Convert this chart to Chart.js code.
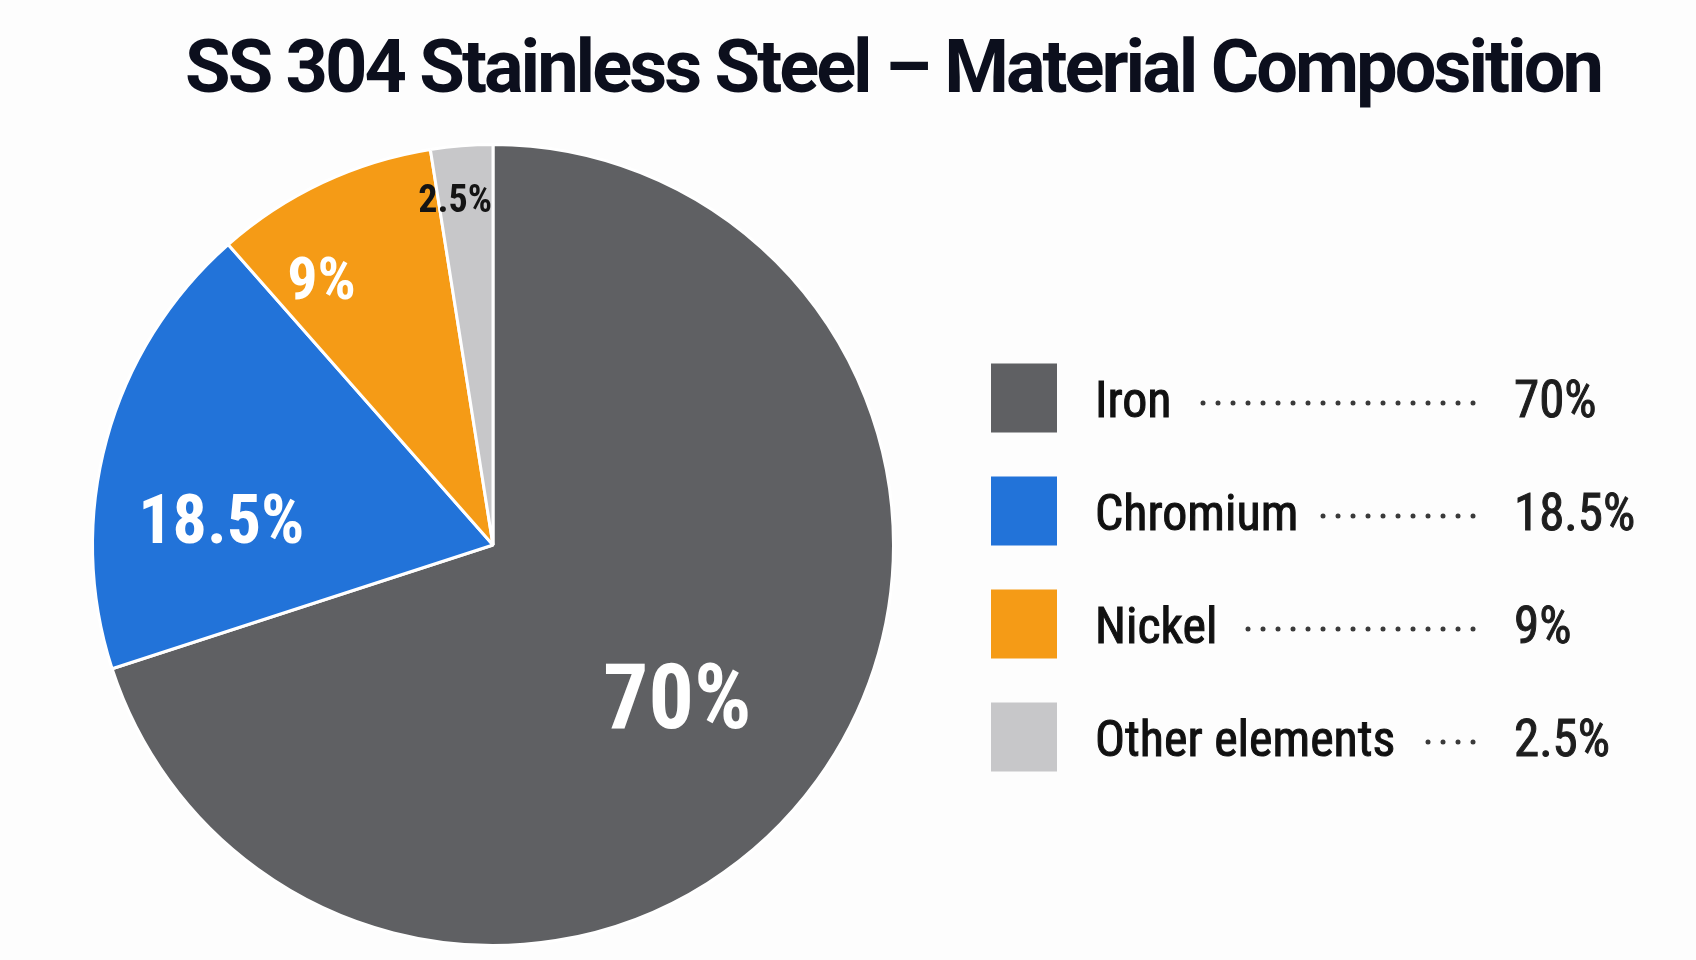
<!DOCTYPE html>
<html>
<head>
<meta charset="utf-8">
<title>SS 304 Stainless Steel – Material Composition</title>
<script src="https://cdn.jsdelivr.net/npm/chart.js@4.4.1/dist/chart.umd.min.js"></script>
<style>
    html, body {
        margin: 0;
        padding: 0;
        background: #fdfdfd;
    }
    #chart-pie {
        display: block;
    }
</style>
</head>
<body>
<canvas id="chart-pie" width="1696" height="960"></canvas>
<script>
const titulo = "SS 304 Stainless Steel – Material Composition";
const elementos = ["Iron", "Chromium", "Nickel", "Other elements"];
const porcentajes = [70, 18.5, 9, 2.5];
const colores = ["#5f6063", "#2273d9", "#f59b16", "#c7c7c9"];
const coloresTexto = ["#ffffff", "#ffffff", "#ffffff", "#141414"];

// label placement inside each slice: fraction of radius, position along the slice (0..1), font size
const radioEtiqueta = [0.61, 0.68, 0.78, 0.86];
const posEtiqueta = [0.52, 0.33, 0.25, 0.3];
const tamEtiqueta = [90, 68, 60, 38];

const FUENTE_NARROW = "'Liberation Sans Narrow', 'Roboto Condensed', 'Roboto', sans-serif";
const FUENTE_TITULO = "'Roboto', 'Inter', sans-serif";

const pluginTitulo = {
    id: "titulo",
    afterDraw(chart) {
        const ctx = chart.ctx;
        ctx.save();
        ctx.fillStyle = "#0c0f1d";
        ctx.font = `700 74px ${FUENTE_TITULO}`;
        ctx.letterSpacing = "-3px";
        ctx.textAlign = "center";
        ctx.textBaseline = "alphabetic";
        ctx.fillText(titulo, 893, 92);
        ctx.restore();
    },
};

const pluginEtiquetas = {
    id: "etiquetas",
    afterDatasetsDraw(chart) {
        const ctx = chart.ctx;
        const meta = chart.getDatasetMeta(0);
        ctx.save();
        ctx.textAlign = "center";
        ctx.textBaseline = "middle";
        meta.data.forEach((arc, i) => {
            const p = arc.getProps(["x", "y", "startAngle", "endAngle", "outerRadius"], true);
            const ang = p.startAngle + (p.endAngle - p.startAngle) * posEtiqueta[i];
            const r = p.outerRadius * radioEtiqueta[i];
            ctx.fillStyle = coloresTexto[i];
            ctx.font = `700 ${tamEtiqueta[i]}px ${FUENTE_NARROW}`;
            ctx.fillText(`${porcentajes[i]}%`, p.x + Math.cos(ang) * r, p.y + Math.sin(ang) * r);
        });
        ctx.restore();
    },
};

const pluginLeyenda = {
    id: "leyendaPuntos",
    afterDraw(chart) {
        const ctx = chart.ctx;
        const data = chart.data;
        const ds = data.datasets[0];
        const x0 = 991, lado = 66, alto = 69;
        const yInicio = 398, paso = 113;
        const xTexto = 1095, xFinPuntos = 1473, xValor = 1514;
        ctx.save();
        data.labels.forEach((label, i) => {
            const yc = yInicio + paso * i;
            ctx.fillStyle = ds.backgroundColor[i];
            ctx.fillRect(x0, yc - alto / 2, lado, alto);

            ctx.font = `400 50px ${FUENTE_NARROW}`;
            ctx.textBaseline = "alphabetic";
            ctx.textAlign = "left";
            ctx.lineWidth = 1;
            ctx.fillStyle = "#111111";
            ctx.strokeStyle = "#111111";
            ctx.fillText(label, xTexto, yc + 19);
            ctx.strokeText(label, xTexto, yc + 19);
            const finTexto = xTexto + ctx.measureText(label).width;

            // dotted leader, right aligned to the value column
            ctx.fillStyle = "#3a3a3a";
            for (let x = xFinPuntos; x >= finTexto + 24; x -= 15) {
                ctx.beginPath();
                ctx.arc(x, yc + 5, 2.5, 0, Math.PI * 2);
                ctx.fill();
            }

            ctx.font = `400 51px ${FUENTE_NARROW}`;
            ctx.fillStyle = "#1e1e1e";
            ctx.strokeStyle = "#1e1e1e";
            ctx.fillText(`${ds.data[i]}%`, xValor, yc + 19);
            ctx.strokeText(`${ds.data[i]}%`, xValor, yc + 19);
        });
        ctx.restore();
    },
};

const ctx = document.getElementById("chart-pie").getContext("2d");
new Chart(ctx, {
    type: "pie",
    data: {
        labels: elementos,
        datasets: [
            {
                data: porcentajes,
                backgroundColor: colores,
                borderColor: "#ffffff",
                borderWidth: 3,
                hoverOffset: 0,
            },
        ],
    },
    options: {
        responsive: false,
        animation: false,
        devicePixelRatio: 1,
        layout: {
            padding: { left: 91, right: 801, top: 141, bottom: 11 },
        },
        plugins: {
            legend: { display: false },
            tooltip: { enabled: false },
            title: { display: false },
        },
    },
    plugins: [pluginTitulo, pluginEtiquetas, pluginLeyenda],
});
</script>
</body>
</html>
